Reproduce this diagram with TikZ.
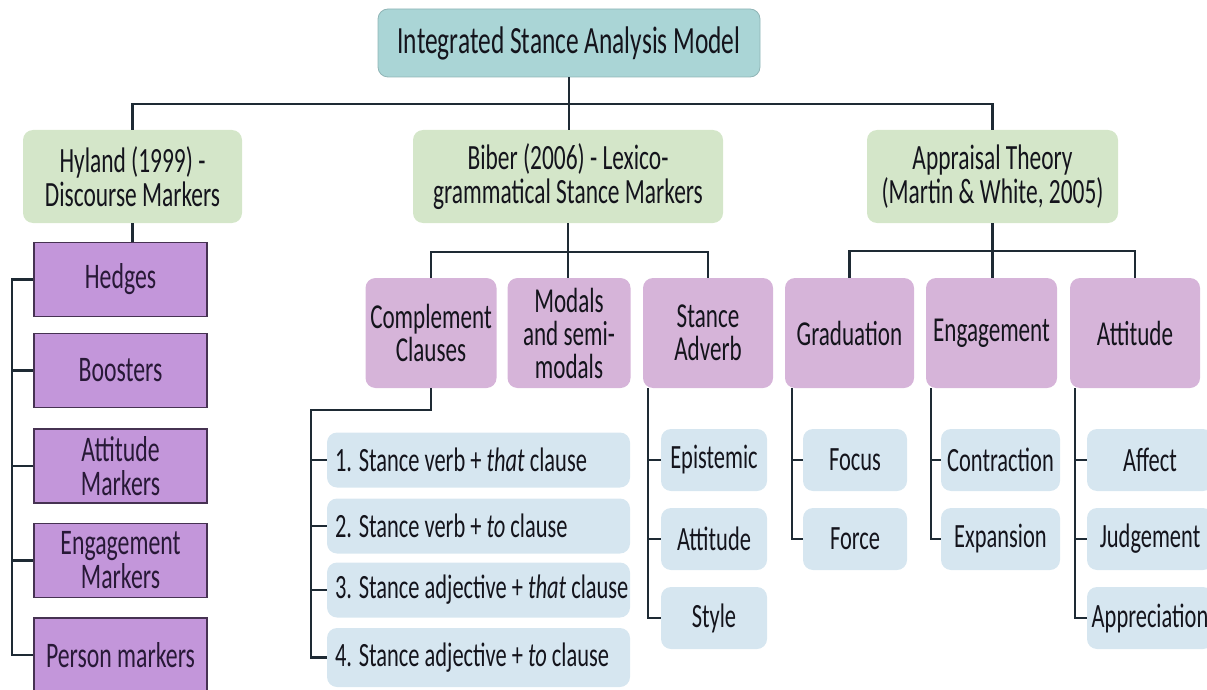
\documentclass[tikz,border=0pt]{standalone}
\usepackage{fontspec}
\setmainfont{Carlito}[FakeStretch=0.66]
\usetikzlibrary{calc}

\definecolor{rootfill}{RGB}{170,213,214}
\definecolor{theoryfill}{RGB}{212,230,201}
\definecolor{markerfill}{RGB}{195,150,218}
\definecolor{markerline}{RGB}{70,50,82}
\definecolor{markertext}{RGB}{40,25,55}
\definecolor{catfill}{RGB}{214,180,217}
\definecolor{leaffill}{RGB}{214,230,240}
\definecolor{linkcol}{RGB}{30,42,52}
\definecolor{textcol}{RGB}{20,20,28}

\newcommand{\cltext}[1]{\makebox[287pt][l]{#1}}

\tikzset{
  box/.style={rounded corners=10pt, align=center, inner sep=4pt, text=textcol},
  rootbox/.style={box, fill=rootfill, draw=rootfill!85!black, line width=0.8pt,
    minimum width=382pt, minimum height=68pt, font=\fontsize{38.5}{38}\selectfont},
  theorybox/.style={box, fill=theoryfill, minimum height=93pt,
    font=\fontsize{35.5}{34}\selectfont},
  markerbox/.style={rectangle, align=center, fill=markerfill, draw=markerline,
    line width=1.2pt, text=markertext, minimum width=173pt, minimum height=74pt,
    font=\fontsize{36}{34}\selectfont},
  catbox/.style={box, fill=catfill, minimum height=110pt,
    font=\fontsize{35}{33}\selectfont},
  itembox/.style={box, fill=leaffill, inner sep=8pt, minimum width=303pt,
    minimum height=55pt, font=\fontsize{34}{34}\selectfont},
  leafbox/.style={box, fill=leaffill, minimum height=62pt,
    font=\fontsize{34}{34}\selectfont},
  link/.style={draw=linkcol, line width=2.5pt}
}

\begin{document}
\begin{tikzpicture}[x=1pt, y=-1pt]
  \clip (0,0) rectangle (1207,690);

  % top and theories
  \node[rootbox] (root) at (569,43) {Integrated Stance Analysis Model};
  \node[theorybox, minimum width=219pt] (hyland) at (132.5,176.5) {Hyland (1999) -\\Discourse Markers};
  \node[theorybox, minimum width=310pt] (biber) at (568,176.5) {Biber (2006) - Lexico-\\grammatical Stance Markers};
  \node[theorybox, minimum width=251pt] (appraisal) at (992.5,176.5) {Appraisal Theory\\(Martin \& White, 2005)};

  \coordinate (bus) at (569,104);
  \draw[link] (root.south) -- (root.south |- biber.north);
  \draw[link] (hyland.north) -- (hyland.north |- bus) -- (appraisal.north |- bus) -- (appraisal.north);

  % Hyland markers
  \node[markerbox] (hedges) at (120.5,279.5) {Hedges};
  \node[markerbox] (boosters) at (120.5,370.5) {Boosters};
  \node[markerbox] (attitudem) at (120.5,466) {Attitude\\Markers};
  \node[markerbox] (engagem) at (120.5,560.5) {Engagement\\Markers};
  \node[markerbox] (person) at (120.5,655) {Person markers};

  \coordinate (hbar) at (12,0);
  \draw[link] (hyland.south) -- (hyland.south |- hedges.north);
  \draw[link] (hedges.west) -- (hedges.west -| hbar) -- (person.west -| hbar) -- (person.west);
  \foreach \n in {boosters, attitudem, engagem}
    \draw[link] (\n.west) -- (\n.west -| hbar);

  % Biber categories
  \node[catbox, minimum width=131pt] (compl) at (431,333) {Complement\\Clauses};
  \node[catbox, minimum width=123pt] (modals) at (569,333) {Modals\\and semi-\\modals};
  \node[catbox, minimum width=130pt] (adverb) at (708,333) {Stance\\Adverb};

  \coordinate (bibus) at (568,252);
  \draw[link] (biber.south) -- (biber.south |- modals.north);
  \draw[link] (compl.north) |- (bibus) -| (adverb.north);

  % Appraisal categories
  \node[catbox, minimum width=129pt] (graduation) at (849.5,333) {Graduation};
  \node[catbox, minimum width=131pt] (engagement) at (991.5,333) {Engagement};
  \node[catbox, minimum width=130pt] (attitude) at (1135,333) {Attitude};

  \coordinate (apbus) at (991,251);
  \draw[link] (appraisal.south) -- (appraisal.south |- engagement.north);
  \draw[link] (graduation.north) |- (apbus) -| (attitude.north);

  % complement clause types
  \node[itembox] (cc1) at (478.5,460) {\cltext{1. Stance verb + \emph{that} clause}};
  \node[itembox] (cc2) at (478.5,526) {\cltext{2. Stance verb + \emph{to} clause}};
  \node[itembox] (cc3) at (478.5,590) {\cltext{3. Stance adjective + \emph{that} clause}};
  \node[itembox, minimum height=59pt] (cc4) at (478.5,657.5) {\cltext{4. Stance adjective + \emph{to} clause}};

  \coordinate (ccbar) at (311,410);
  \draw[link] (compl.south) -- (compl.south |- ccbar) -- (ccbar) -- (ccbar |- cc4.west) -- (cc4.west);
  \foreach \n in {cc1, cc2, cc3}
    \draw[link] (\n.west) -- (\n.west -| ccbar);

  % stance adverbs
  \node[leafbox, minimum width=106pt] (epist) at (714,460) {Epistemic};
  \node[leafbox, minimum width=106pt] (attit) at (714,539) {Attitude};
  \node[leafbox, minimum width=106pt] (style) at (714,618) {Style};

  \draw[link] ([xshift=5pt]adverb.south west) coordinate (advx) |- (style.west);
  \foreach \n in {epist, attit}
    \draw[link] (\n.west) -- (\n.west -| advx);

  % graduation
  \node[leafbox, minimum width=104pt] (focus) at (855,460) {Focus};
  \node[leafbox, minimum width=104pt] (force) at (855,539) {Force};

  \draw[link] ([xshift=7pt]graduation.south west) coordinate (gradx) |- (force.west);
  \draw[link] (focus.west) -- (focus.west -| gradx);

  % engagement
  \node[leafbox, minimum width=119pt] (contr) at (1000.5,460) {Contraction};
  \node[leafbox, minimum width=119pt] (expan) at (1000.5,539) {Expansion};

  \draw[link] ([xshift=5pt]engagement.south west) coordinate (engx) |- (expan.west);
  \draw[link] (contr.west) -- (contr.west -| engx);

  % attitude
  \node[leafbox, minimum width=126pt] (affect) at (1150,460) {Affect};
  \node[leafbox, minimum width=126pt] (judge) at (1150,539) {Judgement};
  \node[leafbox, minimum width=126pt] (apprec) at (1150,618) {Appreciation};

  \draw[link] ([xshift=5pt]attitude.south west) coordinate (attx) |- (apprec.west);
  \foreach \n in {affect, judge}
    \draw[link] (\n.west) -- (\n.west -| attx);
\end{tikzpicture}
\end{document}
